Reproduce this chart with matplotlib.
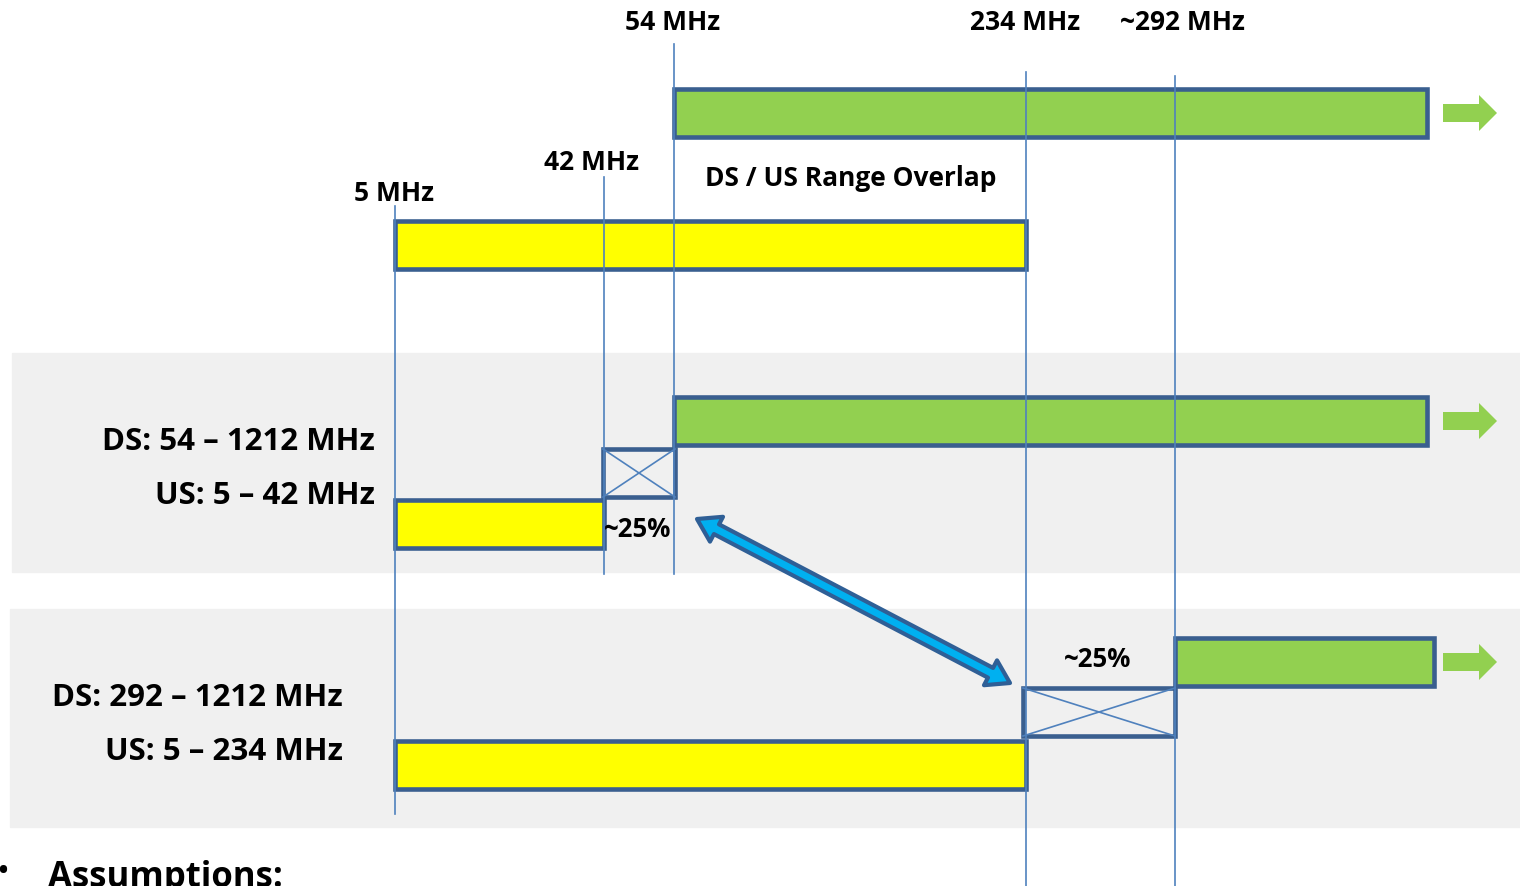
import matplotlib
matplotlib.use("Agg")
import matplotlib.pyplot as plt
from matplotlib.patches import Rectangle, Polygon
import numpy as np

plt.rcParams['font.family'] = ['Open Sans', 'DejaVu Sans']

# frequency markers (label, x position on the diagram)
marker_labels = ['5 MHz', '42 MHz', '54 MHz', '234 MHz', '~292 MHz']
marker_x = [395, 604, 674, 1026, 1175]
marker_label_pos = [(394, 194), (592, 162), (673, 23), (1025, 23), (1182, 23)]
marker_line_span = [(207, 815), (178, 575), (45, 575), (73, 887), (77, 887)]

# spectrum bars: (x0, x1, y_top, kind)
bars_x0 = [674, 395, 674, 395, 1175, 395]
bars_x1 = [1427, 1026, 1427, 604, 1434, 1026]
bars_y = [90, 222, 398, 501, 639, 742]
bars_kind = ['ds', 'us', 'ds', 'us', 'ds', 'us']
bar_h = 48

# guard / crossover boxes
guard_x0 = [603, 1023]
guard_x1 = [675, 1175]
guard_y = [450, 689]
guard_label_pos = [(638, 530), (1098, 660)]

# split descriptions
split_text = ['DS: 54 – 1212 MHz', 'US: 5 – 42 MHz', 'DS: 292 – 1212 MHz', 'US: 5 – 234 MHz']
split_pos = [(375, 442), (375, 496), (343, 698), (343, 752)]

EDGE = '#3a5f8f'
LINE = '#4f81bd'
GREEN = '#92d050'
YELLOW = '#ffff00'

fig = plt.figure(figsize=(15.2, 8.87), dpi=100)
ax = fig.add_axes([0, 0, 1, 1])
ax.set_xlim(0, 1520)
ax.set_ylim(887, 0)
ax.axis('off')

# gray bands
ax.add_patch(Rectangle((12, 354), 1508, 219, color='#f0f0f0', zorder=0))
ax.add_patch(Rectangle((10, 610), 1510, 218, color='#f0f0f0', zorder=0))

# bars
for x0, x1, y, k in zip(bars_x0, bars_x1, bars_y, bars_kind):
    ax.add_patch(Rectangle((x0, y), x1 - x0, bar_h, facecolor=GREEN if k == 'ds' else YELLOW,
                           edgecolor=EDGE, lw=3.3, zorder=2))
    if k == 'ds':
        yc = y + bar_h / 2
        ax.add_patch(Polygon([(1443, yc - 9), (1479, yc - 9), (1479, yc - 18), (1497, yc),
                              (1479, yc + 18), (1479, yc + 9), (1443, yc + 9)],
                             closed=True, facecolor=GREEN, edgecolor='none', zorder=2))

# guard boxes
for x0, x1, y in zip(guard_x0, guard_x1, guard_y):
    ax.add_patch(Rectangle((x0, y), x1 - x0, bar_h, facecolor='none', edgecolor=EDGE, lw=3.3, zorder=3))
    ax.plot([x0, x1], [y, y + bar_h], color=LINE, lw=1.2, zorder=3)
    ax.plot([x0, x1], [y + bar_h, y], color=LINE, lw=1.2, zorder=3)
for (x, y) in guard_label_pos:
    ax.text(x, y, '~25%', ha='center', va='center', fontsize=18.5, fontweight='bold', zorder=4)

# marker lines and labels
for lab, x, (lx, ly), (y0, y1) in zip(marker_labels, marker_x, marker_label_pos, marker_line_span):
    ax.plot([x, x], [y0, y1], color=LINE, lw=1.2, zorder=4)
    ax.text(lx, ly, lab, ha='center', va='center', fontsize=19, fontweight='bold')

ax.text(851, 179, 'DS / US Range Overlap', ha='center', va='center', fontsize=19, fontweight='bold')

for t, (x, y) in zip(split_text, split_pos):
    ax.text(x, y, t, ha='right', va='center', fontsize=22.5, fontweight='bold')

# blue double-headed arrow
p0 = np.array([697.0, 520.0])
p1 = np.array([1010.0, 684.0])
d = (p1 - p0) / np.linalg.norm(p1 - p0)
n = np.array([-d[1], d[0]])
sw, hw, hl = 5.5, 14, 22
pts = [p0, p0 + d * hl + n * hw, p0 + d * hl + n * sw, p1 - d * hl + n * sw, p1 - d * hl + n * hw,
       p1, p1 - d * hl - n * hw, p1 - d * hl - n * sw, p0 + d * hl - n * sw, p0 + d * hl - n * hw]
ax.add_patch(Polygon(pts, closed=True, facecolor='#00b0f0', edgecolor='#2f5f96', lw=3,
                     joinstyle='round', zorder=5))

# bottom text
ax.text(48, 887, 'Assumptions:', ha='left', va='baseline', fontsize=25, fontweight='bold')
ax.text(-4, 873, '•', ha='left', va='center', fontsize=25)

fig.savefig('out.png', dpi=100)
